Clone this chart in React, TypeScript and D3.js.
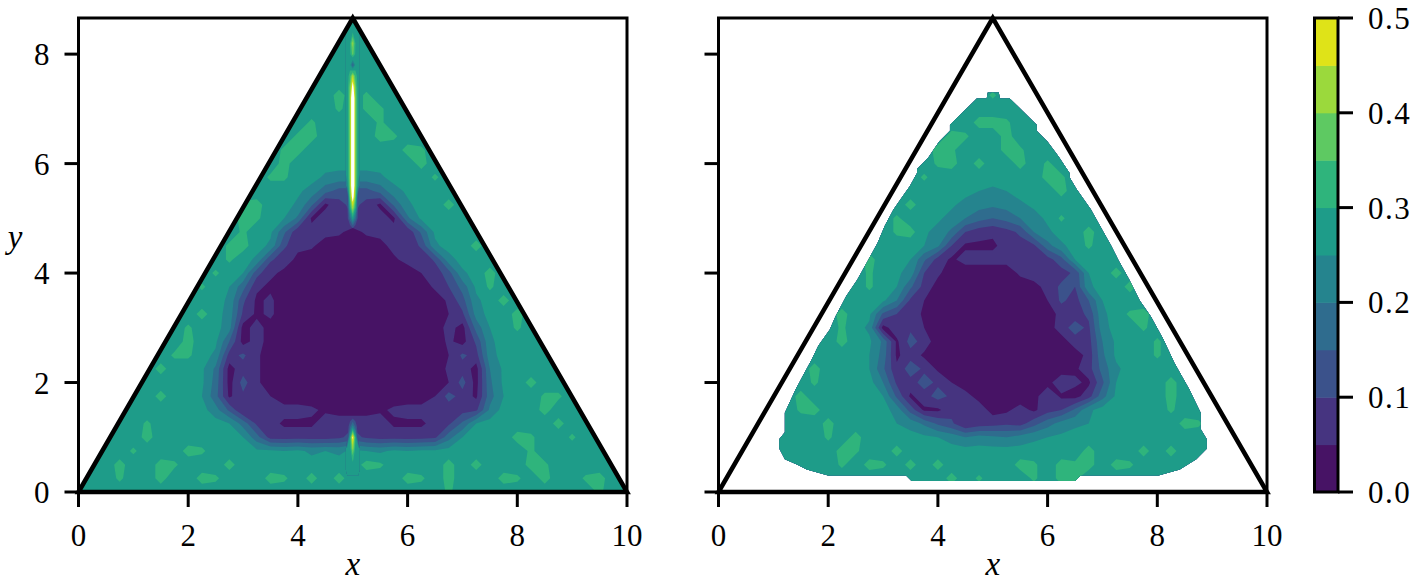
import { useEffect, useRef } from "react";
import * as d3 from "d3";

// contour levels, hundredths of the colour bar value
const levels = [0, 5, 10, 15, 20, 25, 30, 35, 40, 45, 50];
const xTicks = [0, 2, 4, 6, 8, 10];
const yTicks = [0, 2, 4, 6, 8];
const barTicks = [0, 0.1, 0.2, 0.3, 0.4, 0.5];
const triangle: [number, number][] = [[0, 0], [5, 8.66], [10, 0]];

// values on a 0.25 x 0.25 grid, first row is y = 8.75, last row is y = 0
const leftRows = [
  [27,27,27,27,27,27,27,27,27,27, 27,27,27,27,27,27,27,27,27,27, 27,27,27,27,27,27,27,27,27,27, 27,27,27,27,27,27,27,27,27,27, 27],
  [27,27,27,27,27,27,27,27,27,27, 27,27,27,27,27,27,27,27,27,27, 27,27,27,27,27,27,27,27,27,27, 27,27,27,27,27,27,27,27,27,27, 27],
  [27,27,27,27,27,27,27,27,27,27, 27,27,27,27,27,27,27,27,27,27, 27,27,27,27,27,27,27,27,27,27, 27,27,27,27,27,27,27,27,27,27, 27],
  [27,27,27,27,27,27,27,27,27,27, 27,27,27,27,27,27,27,27,27,27, 27,27,27,27,27,27,27,27,27,27, 27,27,27,27,27,27,27,27,27,27, 27],
  [27,27,27,27,27,27,27,27,27,27, 27,27,27,27,27,27,27,27,27,27, 27,27,27,27,27,27,27,27,27,27, 27,27,27,27,27,27,27,27,27,27, 27],
  [27,27,27,27,27,27,27,27,27,27, 27,27,27,27,27,27,27,27,27,27, 27,27,27,27,27,27,27,27,27,27, 27,27,27,27,27,27,27,27,27,27, 27],
  [27,27,27,27,27,27,27,27,27,27, 27,27,27,27,27,27,27,27,27,32, 27,31,27,27,27,27,27,27,27,27, 27,27,27,27,27,27,27,27,27,27, 27],
  [27,27,27,27,27,27,27,27,27,27, 27,27,27,27,27,27,27,27,27,31, 27,31,31,27,27,27,27,27,27,27, 27,27,27,27,27,27,27,27,27,27, 27],
  [27,27,27,27,27,27,27,27,27,27, 27,27,27,27,27,27,27,31,27,27, 27,27,31,27,27,27,27,27,27,27, 27,27,27,27,27,27,27,27,27,27, 27],
  [27,27,27,27,27,27,27,27,27,27, 27,27,27,27,27,27,31,32,27,27, 27,27,32,31,27,27,27,27,27,27, 27,27,27,27,27,27,27,27,27,27, 27],
  [27,27,27,27,27,27,27,27,27,27, 27,27,27,27,27,31,32,27,27,27, 27,27,27,27,32,31,27,27,27,27, 27,27,27,27,27,27,27,27,27,27, 27],
  [27,27,27,27,27,27,27,27,27,27, 27,27,27,27,27,32,27,27,27,27, 27,27,27,27,27,32,27,27,27,27, 27,27,27,27,27,27,27,27,27,27, 27],
  [27,27,27,27,27,27,27,27,27,27, 27,27,27,27,31,31,27,27,24,23, 23,23,24,27,27,27,31,27,27,27, 27,27,27,27,27,27,27,27,27,27, 27],
  [27,27,27,27,27,27,27,27,27,27, 27,27,27,27,27,27,26,23,17,13, 13,13,17,23,26,27,27,27,27,27, 27,27,27,27,27,27,27,27,27,27, 27],
  [27,27,27,27,27,27,27,27,27,27, 27,27,31,32,27,27,24,16,4,8, 12,8,4,16,24,27,27,32,27,27, 27,27,27,27,27,27,27,27,27,27, 27],
  [27,27,27,27,27,27,27,27,27,27, 27,27,32,31,27,25,19,4,7,8, 10,8,7,4,19,26,27,27,27,27, 27,27,27,27,27,27,27,27,27,27, 27],
  [27,27,27,27,27,27,27,27,27,27, 27,27,31,27,26,16,6,7,7,6, 3,6,7,7,6,16,26,27,27,27, 27,27,27,27,27,27,27,27,27,27, 27],
  [27,27,27,27,27,27,27,27,27,27, 27,31,32,27,24,11,6,6,2,2, 2,2,3,7,6,11,24,27,27,32, 27,27,27,27,27,27,27,27,27,27, 27],
  [27,27,27,27,27,27,27,27,27,27, 27,31,27,24,11,7,4,2,2,2, 2,2,2,4,7,6,11,23,27,27, 27,27,27,27,27,27,27,27,27,27, 27],
  [27,27,27,27,27,27,27,27,27,27, 31,27,25,12,6,4,2,2,2,2, 2,2,2,2,2,5,7,13,24,27, 32,27,27,27,27,27,27,27,27,27, 27],
  [27,27,27,27,27,27,27,27,27,31, 27,25,17,6,4,2,2,2,2,2, 2,2,2,2,2,2,6,10,17,26, 31,27,27,27,27,27,27,27,27,27, 27],
  [27,27,27,27,27,27,27,27,27,27, 27,24,11,4,6,2,2,2,2,2, 2,2,2,2,2,2,2,6,13,24, 27,32,27,27,27,27,27,27,27,27, 27],
  [27,27,27,27,27,27,27,27,27,32, 27,23,9,4,6,2,2,2,2,2, 2,2,2,2,2,2,2,5,9,22, 27,27,32,27,27,27,27,27,27,27, 27],
  [27,27,27,27,27,27,27,27,31,27, 27,22,3,7,3,2,2,2,2,2, 2,2,2,2,2,2,2,7,3,17, 25,27,31,27,27,27,27,27,27,27, 27],
  [27,27,27,27,27,27,27,27,32,27, 26,15,3,7,3,2,2,2,2,2, 2,2,2,2,2,2,2,6,3,11, 24,27,27,27,27,27,27,27,27,27, 27],
  [27,27,27,27,27,27,27,31,31,27, 24,8,11,6,2,2,2,2,2,2, 2,2,2,2,2,2,2,5,11,8, 23,27,27,27,27,27,27,27,27,27, 27],
  [27,27,27,27,27,27,32,27,27,26, 19,3,8,6,2,2,2,2,2,2, 2,2,2,2,2,2,2,6,8,3, 20,26,27,27,27,27,27,27,27,27, 27],
  [27,27,27,27,27,27,27,27,27,26, 18,3,12,6,2,2,2,2,2,2, 2,2,2,2,2,2,2,5,12,3, 19,26,27,32,27,27,27,27,27,27, 27],
  [27,27,27,27,27,27,32,27,27,25, 17,4,9,8,5,2,2,2,2,2, 2,2,2,2,2,2,5,12,8,4, 18,25,27,27,31,31,27,27,27,27, 27],
  [27,27,27,27,27,27,27,27,27,27, 22,14,5,8,8,7,7,6,4,2, 2,2,4,6,7,7,8,7,8,9, 21,27,27,27,32,27,27,27,27,27, 27],
  [27,27,27,27,27,31,27,27,27,27, 27,25,18,9,7,4,4,4,8,9, 9,9,8,4,4,4,7,9,16,25, 27,27,27,27,27,32,27,27,27,27, 27],
  [27,27,27,27,27,32,27,27,27,27, 27,27,25,17,8,8,8,8,8,9, 12,9,8,8,8,8,9,18,25,27, 27,27,32,31,27,27,31,27,27,27, 27],
  [27,27,27,27,31,27,27,27,32,31, 27,27,27,26,26,25,26,24,25,24, 26,25,24,26,25,26,26,27,27,27, 27,27,27,31,27,27,27,27,27,27, 27],
  [27,27,27,32,27,27,32,31,27,27, 27,32,27,27,27,27,27,27,27,27, 27,32,31,27,27,27,27,32,27,32, 27,27,27,32,31,27,27,27,27,27, 27],
  [27,27,27,31,27,27,32,27,27,32, 31,27,27,27,32,31,27,32,27,32, 27,27,27,27,32,31,27,32,27,27, 27,32,31,27,32,27,27,31,32,27, 27],
  [27,27,27,27,27,27,27,27,27,27, 27,27,27,27,27,27,27,27,27,27, 27,27,27,27,27,27,27,31,27,27, 27,27,27,27,27,27,27,27,31,27, 27],
];

const rightRows = [
  [27,27,27,27,27,27,27,27,27,27, 27,27,27,27,27,27,27,27,27,27, 27,27,27,27,27,27,27,27,27,27, 27,27,27,27,27,27,27,27,27,27, 27],
  [27,27,27,27,27,27,27,27,27,27, 27,27,27,27,27,27,27,27,27,27, 27,27,27,27,27,27,27,27,27,27, 27,27,27,27,27,27,27,27,27,27, 27],
  [27,27,27,27,27,27,27,27,27,27, 27,27,27,27,27,27,27,27,27,27, 27,27,27,27,27,27,27,27,27,27, 27,27,27,27,27,27,27,27,27,27, 27],
  [27,27,27,27,27,27,27,27,27,27, 27,27,27,27,27,27,27,27,27,27, 27,27,27,27,27,27,27,27,27,27, 27,27,27,27,27,27,27,27,27,27, 27],
  [27,27,27,27,27,27,27,27,27,27, 27,27,27,27,27,27,27,27,27,27, 27,27,27,27,27,27,27,27,27,27, 27,27,27,27,27,27,27,27,27,27, 27],
  [27,27,27,27,27,27,27,27,27,27, 27,27,27,27,27,27,27,27,27,27, 27,27,27,27,27,27,27,27,27,27, 27,27,27,27,27,27,27,27,27,27, 27],
  [27,27,27,27,27,27,27,27,27,27, 27,27,27,27,27,27,27,27,27,27, 31,27,27,27,27,27,27,27,27,27, 27,27,27,27,27,27,27,27,27,27, 27],
  [27,27,27,27,27,27,27,27,27,27, 27,27,27,27,27,27,27,27,27,27, 27,27,27,27,27,27,27,27,27,27, 27,27,27,27,27,27,27,27,27,27, 27],
  [27,27,27,27,27,27,27,27,27,27, 27,27,27,27,27,27,27,27,27,32, 32,31,27,27,27,27,27,27,27,27, 27,27,27,27,27,27,27,27,27,27, 27],
  [27,27,27,27,27,27,27,27,27,27, 27,27,27,27,27,27,27,32,31,27, 27,32,27,27,27,27,27,27,27,27, 27,27,27,27,27,27,27,27,27,27, 27],
  [27,27,27,27,27,27,27,27,27,27, 27,27,27,27,27,27,32,31,27,27, 27,32,31,27,27,27,27,27,27,27, 27,27,27,27,27,27,27,27,27,27, 27],
  [27,27,27,27,27,27,27,27,27,27, 27,27,27,27,27,27,31,32,27,32, 27,27,32,27,31,27,27,27,27,27, 27,27,27,27,27,27,27,27,27,27, 27],
  [27,27,27,27,27,27,27,27,27,27, 27,27,27,27,27,31,27,27,27,27, 27,27,27,27,32,31,27,27,27,27, 27,27,27,27,27,27,27,27,27,27, 27],
  [27,27,27,27,27,27,27,27,27,27, 27,27,27,27,27,27,27,27,27,25, 24,25,27,27,27,32,27,27,27,27, 27,27,27,27,27,27,27,27,27,27, 27],
  [27,27,27,27,27,27,27,27,27,27, 27,27,27,27,32,27,27,26,23,22, 21,22,24,26,27,27,27,27,27,27, 27,27,27,27,27,27,27,27,27,27, 27],
  [27,27,27,27,27,27,27,27,27,27, 27,27,27,31,27,27,26,23,20,17, 15,17,20,23,26,31,27,27,27,27, 27,27,27,27,27,27,27,27,27,27, 27],
  [27,27,27,27,27,27,27,27,27,27, 27,27,27,31,32,26,23,19,10,7, 6,8,11,20,24,27,27,32,27,27, 27,27,27,27,27,27,27,27,27,27, 27],
  [27,27,27,27,27,27,27,27,27,27, 27,27,27,27,27,25,21,10,4,4, 4,7,8,9,18,24,27,31,27,27, 27,27,27,27,27,27,27,27,27,27, 27],
  [27,27,27,27,27,27,27,27,27,27, 27,32,27,27,25,16,8,4,7,7, 7,7,7,9,8,13,25,27,27,27, 27,27,27,27,27,27,27,27,27,27, 27],
  [27,27,27,27,27,27,27,27,27,27, 27,31,27,26,23,10,6,2,2,2, 2,2,6,8,9,8,11,25,27,32, 27,27,27,27,27,27,27,27,27,27, 27],
  [27,27,27,27,27,27,27,27,27,27, 27,31,27,25,16,8,3,2,2,2, 2,2,2,3,7,11,10,24,27,27, 32,27,27,27,27,27,27,27,27,27, 27],
  [27,27,27,27,27,27,27,27,27,27, 27,27,26,20,9,5,2,2,2,2, 2,2,2,2,5,11,8,15,25,27, 27,27,27,27,27,27,27,27,27,27, 27],
  [27,27,27,27,27,27,27,27,27,32, 27,26,14,10,8,4,2,2,2,2, 2,2,2,2,2,7,8,11,24,27, 31,32,27,27,27,27,27,27,27,27, 27],
  [27,27,27,27,27,27,27,27,27,31, 27,24,3,8,9,5,2,2,2,2, 2,2,2,2,2,8,12,9,23,27, 27,31,27,27,27,27,27,27,27,27, 27],
  [27,27,27,27,27,27,27,27,27,32, 27,26,19,4,12,8,2,2,2,2, 2,2,2,2,2,2,8,8,20,26, 27,27,31,27,27,27,27,27,27,27, 27],
  [27,27,27,27,27,27,27,27,27,27, 27,25,18,4,8,4,2,2,2,2, 2,2,2,2,2,2,2,7,19,26, 27,27,31,27,27,27,27,27,27,27, 27],
  [27,27,27,27,27,27,27,32,27,27, 27,25,16,6,13,9,4,2,2,2, 2,2,2,2,2,2,4,8,17,24, 27,27,27,27,27,27,27,27,27,27, 27],
  [27,27,27,27,27,27,27,31,27,27, 27,27,20,9,8,12,9,5,2,2, 2,2,2,2,3,9,6,4,14,25, 27,27,27,32,27,27,27,27,27,27, 27],
  [27,27,27,27,27,27,32,27,27,27, 27,27,25,14,4,8,12,9,7,3, 2,2,2,3,9,4,3,8,18,26, 27,27,27,32,27,27,27,27,27,27, 27],
  [27,27,27,27,27,27,31,32,27,27, 27,27,27,23,13,4,4,8,8,8, 3,4,7,4,8,10,16,24,27,27, 27,27,27,31,27,27,27,27,27,27, 27],
  [27,27,27,27,27,27,27,27,32,27, 27,27,27,25,23,19,14,11,5,7, 8,9,8,13,18,22,24,25,27,27, 27,27,27,27,32,31,27,27,27,27, 27],
  [27,27,27,27,27,27,27,27,31,27, 32,27,27,27,27,26,25,23,20,22, 21,20,22,24,25,26,27,27,27,27, 27,27,27,27,27,27,27,27,27,27, 27],
  [27,27,27,27,27,27,27,27,27,32, 31,27,27,32,27,27,27,27,27,27, 27,27,27,27,27,27,27,32,27,27, 27,32,27,32,27,27,27,27,27,27, 27],
  [27,27,27,27,27,27,27,27,27,31, 27,32,31,27,32,27,32,27,27,27, 27,27,32,31,27,32,31,32,27,32, 31,27,27,27,27,27,27,27,27,27, 27],
  [27,27,27,27,27,27,27,27,27,27, 27,27,27,27,27,27,27,32,27,31, 27,27,27,31,27,32,31,27,27,27, 27,27,27,27,27,27,27,27,27,27, 27],
  [27,27,27,27,27,27,27,27,27,27, 27,27,27,27,27,27,27,27,27,27, 27,27,27,27,27,27,27,27,27,27, 27,27,27,27,27,27,27,27,27,27, 27],
];

// narrow streak along x = 5 in the left panel, columns x = 4.9 ... 5.1, rows y = 8.6 ... 0.4 by 0.2
const streakRows = [
  [27,27,27,27,27], [27,27,30,27,27], [27,30,42,30,27], [27,29,37,29,27], [27,27,15,27,27],
  [27,33,45,33,27], [27,38,55,38,27], [27,40,65,40,27], [27,40,65,40,27], [27,40,65,40,27],
  [27,40,65,40,27], [27,40,65,40,27], [27,40,65,40,27], [27,40,65,40,27], [27,40,65,40,27],
  [24,40,65,40,24], [8,38,56,38,8], [8,30,44,30,8], [8,18,28,18,8], [5,5,8,5,5],
  [5,5,5,5,5], [5,5,5,5,5], [5,5,5,5,5], [5,5,5,5,5], [5,5,5,5,5],
  [5,5,5,5,5], [5,5,5,5,5], [5,5,5,5,5], [5,5,5,5,5], [5,5,5,5,5],
  [5,5,5,5,5], [5,5,5,5,5], [5,5,5,5,5], [5,5,5,5,5], [5,5,5,5,5],
  [5,5,5,5,5], [5,5,5,5,5], [6,14,22,14,6], [6,30,52,30,6], [27,28,42,28,27],
  [27,27,31,27,27], [27,27,27,27,27],
];

// outline of the covered region in the right panel
const rightOutline: [number, number][] = [
  [4.91,7.3],[5.11,7.3],[5.13,7.19],[5.31,7.19],[5.8,6.71],[5.8,6.6],[6,6.4],[6.2,6.13],[6.4,5.83],[6.4,5.75],[6.53,5.53],
  [6.79,5.16],[6.99,4.8],[7.16,4.5],[7.29,4.24],[7.49,3.88],[7.68,3.5],[7.88,3.21],[8.11,2.79],[8.31,2.36],
  [8.58,1.88],[8.79,1.45],[8.79,1.15],[8.9,0.97],[8.9,0.79],[8.71,0.6],[8.41,0.41],[8.02,0.3],[6.6,0.3],
  [6.5,0.2],[3.52,0.2],[3.42,0.3],[2,0.3],[1.61,0.41],[1.44,0.5],[1.21,0.6],[1.11,0.79],[1.11,0.97],
  [1.21,1.09],[1.21,1.45],[1.41,1.88],[1.6,2.24],[1.7,2.42],[1.82,2.67],[2.03,2.97],[2.13,3.2],[2.33,3.58],
  [2.53,3.88],[2.73,4.24],[2.9,4.55],[3.03,4.86],[3.19,5.16],[3.32,5.35],[3.49,5.59],[3.62,5.83],[3.62,5.9],
  [3.82,6.1],[4.02,6.4],[4.22,6.6],[4.22,6.71],[4.71,7.19],[4.89,7.19],
];

const font = "'Liberation Serif', serif";
const bandColor = (i: number) => d3.interpolateViridis((i + 0.5) / 10);

export default function App() {
  const ref = useRef<SVGSVGElement | null>(null);

  useEffect(() => {
    if (!ref.current) return;
    const svg = d3.select(ref.current);
    svg.selectAll("*").remove();

    const y = d3.scaleLinear().domain([0, 8.66]).range([492, 18]);

    const drawField = (
      g: any,
      x: d3.ScaleLinear<number, number>,
      rows: number[][],
      x0: number,
      y0: number,
      dx: number,
      dy: number,
      lv: number[],
    ) => {
      const ny = rows.length;
      const nx = rows[0].length;
      const flat = rows.slice().reverse().flat();
      const project = d3.geoPath(
        d3.geoTransform({
          point(px: number, py: number) {
            (this as any).stream.point(x(x0 + (px - 0.5) * dx), y(y0 + (py - 0.5) * dy));
          },
        }),
      );
      const bands = d3.contours().size([nx, ny]).thresholds(lv)(flat);
      g.selectAll(null)
        .data(bands)
        .join("path")
        .attr("d", (d: any) => project(d))
        .attr("fill", (d: any) => (d.value >= 50 ? "#fff" : bandColor(d.value / 5)));
    };

    const drawPanel = (
      left: number,
      right: number,
      id: string,
      outline: [number, number][],
      rows: number[][],
      streak: boolean,
      showLabels: boolean,
    ) => {
      const x = d3.scaleLinear().domain([0, 10]).range([left, right]);
      const line = d3.line<[number, number]>().x((d) => x(d[0])).y((d) => y(d[1]));
      svg.append("clipPath").attr("id", id).append("path").attr("d", line(outline) + "Z");

      const field = svg.append("g").attr("clip-path", `url(#${id})`);
      drawField(field.append("g"), x, rows, 0, 0, 0.25, 0.25, levels);
      if (streak) drawField(field.append("g"), x, streakRows, 4.9, 0.4, 0.05, 0.2, levels.slice(2));

      svg
        .append("rect")
        .attr("x", left)
        .attr("y", 18)
        .attr("width", right - left)
        .attr("height", 474)
        .attr("fill", "none")
        .attr("stroke", "#000")
        .attr("stroke-width", 3);
      svg
        .append("path")
        .attr("d", line(triangle) + "Z")
        .attr("fill", "none")
        .attr("stroke", "#000")
        .attr("stroke-width", 4.5)
        .attr("stroke-linejoin", "miter");

      const xAxis = svg
        .append("g")
        .attr("transform", "translate(0,492)")
        .call(d3.axisBottom(x).tickValues(xTicks).tickSize(15).offset(0));
      const yAxis = svg
        .append("g")
        .attr("transform", `translate(${left},0)`)
        .call(
          d3
            .axisLeft(y)
            .tickValues(yTicks)
            .tickSize(14)
            .offset(0)
            .tickFormat((d) => (showLabels ? String(d) : "")),
        );
      [xAxis, yAxis].forEach((a) => {
        a.select(".domain").remove();
        a.selectAll("line").attr("stroke", "#000").attr("stroke-width", 3);
        a.selectAll("text").attr("font-family", font).attr("font-size", 31).attr("fill", "#000");
      });
      xAxis.selectAll("text").attr("y", 54).attr("dy", 0);
      yAxis.selectAll("text").attr("x", -29).attr("dy", 11);

      svg
        .append("text")
        .attr("x", x(5))
        .attr("y", 575)
        .attr("text-anchor", "middle")
        .attr("font-family", font)
        .attr("font-style", "italic")
        .attr("font-size", 33)
        .text("x");
    };

    drawPanel(78.5, 627, "clip-left", triangle, leftRows, true, true);
    drawPanel(718.5, 1267, "clip-right", rightOutline, rightRows, false, false);

    svg
      .append("text")
      .attr("x", 15)
      .attr("y", 248)
      .attr("text-anchor", "middle")
      .attr("font-family", font)
      .attr("font-style", "italic")
      .attr("font-size", 33)
      .text("y");

    // colour bar
    const bar = d3.scaleLinear().domain([0, 0.5]).range([492, 18]);
    svg
      .append("g")
      .selectAll("rect")
      .data(levels.slice(0, -1))
      .join("rect")
      .attr("x", 1314.5)
      .attr("width", 23.5)
      .attr("y", (d) => bar((d + 5) / 100))
      .attr("height", (d) => bar(d / 100) - bar((d + 5) / 100) + 0.5)
      .attr("fill", (_, i) => bandColor(i));
    svg
      .append("rect")
      .attr("x", 1314.5)
      .attr("y", 18)
      .attr("width", 23.5)
      .attr("height", 474)
      .attr("fill", "none")
      .attr("stroke", "#000")
      .attr("stroke-width", 3);
    const barAxis = svg
      .append("g")
      .attr("transform", "translate(1338,0)")
      .call(d3.axisRight(bar).tickValues(barTicks).tickSize(15).offset(0).tickFormat(d3.format(".1f")));
    barAxis.select(".domain").remove();
    barAxis.selectAll("line").attr("stroke", "#000").attr("stroke-width", 3);
    barAxis
      .selectAll("text")
      .attr("x", 30)
      .attr("dy", 11)
      .attr("letter-spacing", 1.5)
      .attr("font-family", font)
      .attr("font-size", 31)
      .attr("fill", "#000");
  }, []);

  return (
    <svg
      ref={ref}
      width={1419}
      height={588}
      style={{ position: "absolute", left: 0, top: 0, display: "block", background: "#fff" }}
    />
  );
}
